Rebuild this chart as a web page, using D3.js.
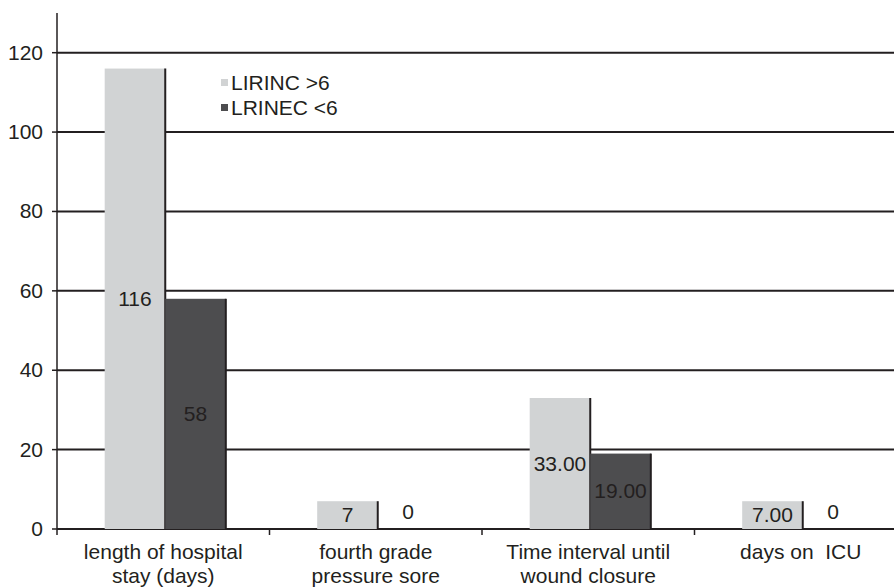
<!DOCTYPE html>
<html>
<head>
<meta charset="utf-8">
<script src="https://cdn.jsdelivr.net/npm/d3@7"></script>
<style>
  html, body { margin: 0; padding: 0; background: #fff; }
  svg { display: block; font-family: "Liberation Sans", Arial, sans-serif; }
</style>
</head>
<body>
<div id="grafico"></div>
<script>
const categories = ["length of hospital|stay (days)", "fourth grade|pressure sore", "Time interval until|wound closure", "days on  ICU"];
const seriesNames = ["LIRINC >6", "LRINEC <6"];
const lirincValues = [116, 7, 33, 7];
const lrinecValues = [58, 0, 19, 0];
const lirincLabels = ["116", "7", "33.00", "7.00"];
const lrinecLabels = ["58", "0", "19.00", "0"];
const yTicks = [0, 20, 40, 60, 80, 100, 120];

const width = 894;
const height = 587;
const plotLeft = 57, plotRight = 907, plotTop = 13, plotBottom = 529;
const colors = ["#d1d3d4", "#4d4d4f"];
const ink = "#231f20";
const fontSize = '21px';

const svg = d3.select('#grafico')
    .append('svg')
    .attr('width', width)
    .attr('height', height);

const y = d3.scaleLinear().domain([0, 130]).range([plotBottom, plotTop]);
const x = d3.scaleBand().domain(categories).range([plotLeft, plotRight]).padding(0);
const barW = x.bandwidth() * 0.285;

// lineas de la cuadricula
svg.selectAll('.grid')
    .data(yTicks)
    .enter()
    .append('line')
    .attr('x1', plotLeft).attr('x2', plotRight)
    .attr('y1', d => y(d)).attr('y2', d => y(d))
    .attr('stroke', ink)
    .attr('stroke-width', 2);

// datos por grupo
const rows = categories.map((c, i) => ({
    cat: c,
    bars: [
        { s: 0, v: lirincValues[i], label: lirincLabels[i] },
        { s: 1, v: lrinecValues[i], label: lrinecLabels[i] }
    ]
}));

const group = svg.selectAll('.grp')
    .data(rows)
    .enter()
    .append('g')
    .attr('transform', d => `translate(${x(d.cat) + x.bandwidth() / 2 - barW + 2}, 0)`);

const bar = group.selectAll('.bar')
    .data(d => d.bars)
    .enter()
    .append('g');

bar.append('rect')
    .attr('x', d => d.s * barW)
    .attr('y', d => y(d.v))
    .attr('width', barW)
    .attr('height', d => y(0) - y(d.v))
    .attr('fill', d => colors[d.s]);

bar.filter(d => d.v > 0)
    .append('line')
    .attr('x1', d => (d.s + 1) * barW)
    .attr('x2', d => (d.s + 1) * barW)
    .attr('y1', d => y(d.v))
    .attr('y2', y(0))
    .attr('stroke', ink)
    .attr('stroke-width', 2);

bar.append('text')
    .attr('x', d => d.s * barW + barW / 2)
    .attr('y', d => d.v > 0 ? (y(d.v) + y(0)) / 2 + 7 : y(0) - 10)
    .attr('text-anchor', 'middle')
    .style('font-size', fontSize)
    .style('fill', ink)
    .text(d => d.label);

// eje y
svg.append('line')
    .attr('x1', plotLeft).attr('x2', plotLeft)
    .attr('y1', plotTop).attr('y2', plotBottom)
    .attr('stroke', ink).attr('stroke-width', 1.5);

svg.selectAll('.ytick')
    .data(yTicks)
    .enter()
    .append('line')
    .attr('x1', plotLeft - 5).attr('x2', plotLeft)
    .attr('y1', d => y(d)).attr('y2', d => y(d))
    .attr('stroke', ink).attr('stroke-width', 1.5);

svg.selectAll('.ylab')
    .data(yTicks)
    .enter()
    .append('text')
    .attr('x', plotLeft - 14)
    .attr('y', d => y(d) + 7)
    .attr('text-anchor', 'end')
    .style('font-size', fontSize)
    .style('fill', ink)
    .text(d => d);

// eje x: marcas entre categorias
svg.selectAll('.xtick')
    .data(categories.concat([null]))
    .enter()
    .append('line')
    .attr('x1', (d, i) => plotLeft + i * x.bandwidth())
    .attr('x2', (d, i) => plotLeft + i * x.bandwidth())
    .attr('y1', plotBottom).attr('y2', plotBottom + 6)
    .attr('stroke', ink).attr('stroke-width', 1.5);

svg.selectAll('.xlab')
    .data(categories)
    .enter()
    .append('text')
    .attr('text-anchor', 'middle')
    .attr('transform', d => `translate(${x(d) + x.bandwidth() / 2}, 559)`)
    .style('font-size', fontSize)
    .style('fill', ink)
    .style('white-space', 'pre')
    .selectAll('tspan')
    .data(d => d.split('|'))
    .enter()
    .append('tspan')
    .attr('x', 0)
    .attr('y', (d, i) => i * 24)
    .text(d => d);

// leyenda
const legend = svg.append('g').attr('transform', 'translate(221, 79)');
legend.selectAll('rect')
    .data(seriesNames)
    .enter()
    .append('rect')
    .attr('x', 0)
    .attr('y', (d, i) => i * 25)
    .attr('width', 7)
    .attr('height', 7)
    .attr('fill', (d, i) => colors[i]);

legend.selectAll('text')
    .data(seriesNames)
    .enter()
    .append('text')
    .attr('x', 10)
    .attr('y', (d, i) => 11 + i * 25)
    .style('font-size', fontSize)
    .style('fill', ink)
    .text(d => d);
</script>
</body>
</html>
